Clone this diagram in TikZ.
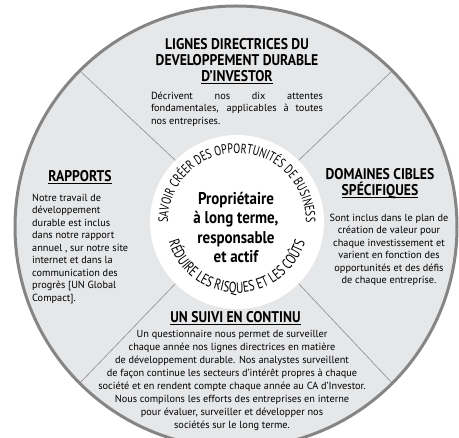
\documentclass[tikz,border=0pt]{standalone}
\usepackage{fontspec}
\setmainfont{PT Sans}
\newfontfamily\headfont[FakeStretch=0.88]{PT Sans}
\newfontfamily\arcfont[FakeStretch=0.75]{PT Sans}
\usetikzlibrary{decorations.text}
\definecolor{wheelgray}{HTML}{E6E7E9}
\definecolor{rimgray}{HTML}{858585}
\definecolor{spokegray}{HTML}{8C8C8C}
\newcommand{\undl}[1]{\leavevmode\setbox0=\hbox{#1}\rlap{\rule[-2.6pt]{\wd0}{1.3pt}}\box0}
\hbadness=10000
\tikzset{%
  wheel/.style   = {circle, draw=rimgray, line width=3pt, fill=wheelgray,%
                    minimum size=442pt, inner sep=0pt},%
  hub/.style     = {circle, fill=white, minimum size=174pt, inner sep=0pt},%
  spoke/.style   = {draw=spokegray, line width=0.6pt},%
  heading/.style = {font=\headfont\bfseries\fontsize{15.5}{16}\selectfont, align=center},%
  body/.style    = {font=\fontsize{10.3}{12.5}\selectfont},%
  motto/.style   = {font=\headfont\bfseries\fontsize{17}{19.5}\selectfont, align=center}%
}

\begin{document}
\begin{tikzpicture}[x=1pt,y=1pt,every node/.style={inner sep=0pt}]
	\useasboundingbox (0,0) rectangle (459,438);
	\node[wheel] (wheel) at (236,211) {};
	\node[hub] (hub) at (237,216) {};
	\foreach \a in {45,135,225,315}
		\draw[spoke] (hub.\a) -- (wheel.\a);
	\path[decorate, decoration={text along path, text align=center,
		text={|\arcfont\fontsize{13.5}{14}\selectfont|SAVOIR CRÉER DES OPPORTUNITÉS DE BUSINESS}}]
		([shift={(184:69)}]hub.center) arc[start angle=184, end angle=-4, radius=69];
	\path[decorate, decoration={text along path, text align=center,
		text={|\arcfont\fontsize{15}{15}\selectfont|RÉDUIRE LES RISQUES ET LES COÛTS}}]
		([shift={(190:71)}]hub.center) arc[start angle=190, end angle=350, radius=71];
	\node[motto] (owner) at (236,210.5) {Propriétaire\\à long terme,\\responsable\\et actif};
	\node[heading] (guideTitle) at (237,377)
		{LIGNES DIRECTRICES DU\\DEVELOPPEMENT DURABLE\\\undl{D’INVESTOR}};
	\node[body, text width=172pt, align=justify] (guideText) at (237,329)
		{Décrivent nos dix attentes\linebreak fondamentales, applicables à toutes\linebreak nos entreprises.};
	\node[heading] (reportTitle) at (80,261) {\undl{RAPPORTS}};
	\node[body, align=left, anchor=west] (reportText) at (32,189)
		{Notre travail de\\développement\\durable est inclus\\dans notre rapport\\annuel , sur notre site\\
		internet et dans la\\communication des\\progrès [UN Global\\Compact].};
	\node[heading] (focusTitle) at (380,254.5) {DOMAINES CIBLES\\\undl{SPÉCIFIQUES}};
	\node[body, align=center] (focusText) at (389,188)
		{Sont inclus dans le plan de\\création de valeur pour\\chaque investissement et\\
		varient en fonction des\\opportunités et des défis\\de chaque entreprise.};
	\node[heading] (followTitle) at (235.5,120) {\undl{UN SUIVI EN CONTINU}};
	\node[body, align=center, font=\fontsize{10.3}{13}\selectfont] (followText) at (232,58)
		{Un questionnaire nous permet de surveiller\\chaque année nos lignes directrices en matière\\
		de développement durable. Nos analystes surveillent\\de façon continue les secteurs d’intérêt propres à chaque\\
		société et en rendent compte chaque année au CA d’Investor.\\Nous compilons les efforts des entreprises en interne\\
		pour évaluer, surveiller et développer nos\\sociétés sur le long terme.};
\end{tikzpicture}
\end{document}
